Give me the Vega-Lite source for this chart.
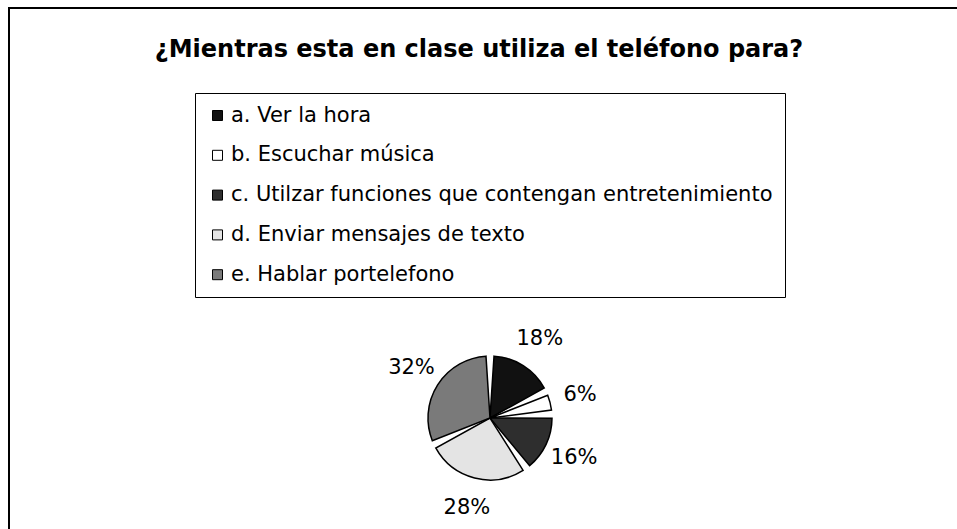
{
  "$schema": "https://vega.github.io/schema/vega-lite/v6.json",
  "autosize": "none",
  "padding": {"left": 9, "top": 8, "right": 0, "bottom": 0},
  "width": 962,
  "height": 820,
  "background": "white",
  "view": {"stroke": "black", "strokeWidth": 2},
  "title": {
    "text": "¿Mientras esta en clase utiliza el teléfono para?",
    "font": "DejaVu Sans",
    "fontSize": 24,
    "fontWeight": "bold",
    "color": "black",
    "anchor": "middle",
    "frame": "group",
    "offset": -54,
    "dx": -11
  },
  "config": {
    "view": {"stroke": "black", "strokeWidth": 2},
    "text": {"font": "DejaVu Sans"}
  },
  "data": {
    "values": [
      {"categoria": "a. Ver la hora", "porcentaje": 18, "etiqueta": "18%"},
      {"categoria": "b. Escuchar música", "porcentaje": 6, "etiqueta": "6%"},
      {"categoria": "c. Utilzar funciones que contengan entretenimiento", "porcentaje": 16, "etiqueta": "16%"},
      {"categoria": "d. Enviar mensajes de texto", "porcentaje": 28, "etiqueta": "28%"},
      {"categoria": "e. Hablar portelefono", "porcentaje": 32, "etiqueta": "32%"}
    ]
  },
  "encoding": {
    "theta": {"field": "porcentaje", "type": "quantitative", "stack": true},
    "order": {"field": "categoria", "type": "ordinal", "sort": "ascending"},
    "color": {
      "field": "categoria",
      "type": "nominal",
      "scale": {
        "domain": ["a. Ver la hora", "b. Escuchar música", "c. Utilzar funciones que contengan entretenimiento", "d. Enviar mensajes de texto", "e. Hablar portelefono"],
        "range": ["#111111", "#ffffff", "#2e2e2e", "#e4e4e4", "#7a7a7a"]
      },
      "legend": {
        "title": null,
        "orient": "none",
        "legendX": 186,
        "legendY": 85,
        "direction": "vertical",
        "strokeColor": "black",
        "padding": 12,
        "symbolType": "square",
        "symbolSize": 100,
        "symbolStrokeColor": "black",
        "symbolStrokeWidth": 1,
        "symbolOffset": 0,
        "labelFont": "DejaVu Sans",
        "labelFontSize": 21,
        "labelColor": "black",
        "labelLimit": 0,
        "labelOffset": 3,
        "rowPadding": 17.8
      }
    }
  },
  "layer": [
    {
      "mark": {"type": "arc", "outerRadius": 62, "padAngle": 0.13, "stroke": "black", "strokeWidth": 1.5}
    },
    {
      "mark": {"type": "text", "radius": 93, "fontSize": 21, "font": "DejaVu Sans"},
      "encoding": {
        "text": {"field": "etiqueta", "type": "nominal"},
        "color": {"value": "black"}
      }
    }
  ]
}
